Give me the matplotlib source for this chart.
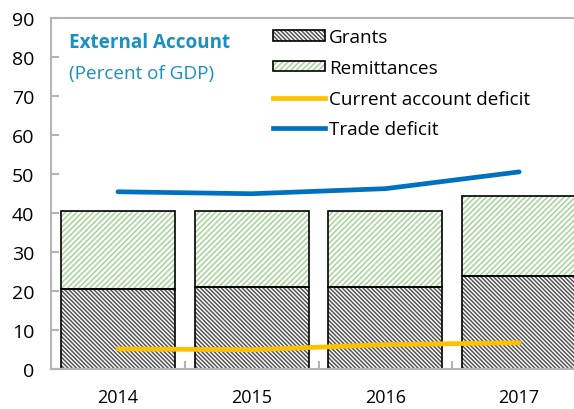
# plot.py
# External account chart: stacked bars (grants, remittances) + deficit lines

import matplotlib
matplotlib.use('agg')
import matplotlib.pyplot as plt
from matplotlib.patches import Patch
from matplotlib.lines import Line2D
import numpy as np

### Data ###
years = ['2014', '2015', '2016', '2017']
grants = [20.5, 21.0, 21.0, 23.8]
remittances = [20.0, 19.5, 19.5, 20.6]
current_account_deficit = [5.1, 4.9, 6.2, 6.7]
trade_deficit = [45.4, 44.9, 46.2, 50.5]

### Style ###
plt.rcParams['font.family'] = ['Open Sans', 'DejaVu Sans']
plt.rcParams['hatch.linewidth'] = 1.1
SPINE = '#b4b4b4'
TITLE_BLUE = '#1a8fc2'
GRANT_HATCH = '\\' * 8
REMIT_HATCH = '/' * 6
GRANT_COL = '#555555'
REMIT_COL = '#a3d396'

fig = plt.figure(figsize=(5.74, 4.10), dpi=100)
ax = fig.add_axes([0.089, 0.098, 0.932, 0.856])

x = np.arange(len(years))
w = 0.853

# hatched fills (edge colour drives hatch colour), then black outlines
ax.bar(x, grants, w, color='white', edgecolor=GRANT_COL, hatch=GRANT_HATCH, linewidth=0)
ax.bar(x, remittances, w, bottom=grants, color='white', edgecolor=REMIT_COL,
       hatch=REMIT_HATCH, linewidth=0)
ax.bar(x, grants, w, fill=False, edgecolor='black', linewidth=1.2)
ax.bar(x, remittances, w, bottom=grants, fill=False, edgecolor='black', linewidth=1.2)

ax.plot(x, current_account_deficit, color='#ffc000', lw=3.4, solid_capstyle='round')
ax.plot(x, trade_deficit, color='#0070c0', lw=3.4, solid_capstyle='round')

ax.set_xlim(-0.5, 3.5)
ax.set_ylim(0, 90)
ax.set_yticks(range(0, 91, 10))
ax.set_xticks(x)
ax.set_xticklabels(years)
ax.set_xticks(x[:-1] + 0.5, minor=True)
ax.tick_params(axis='x', which='major', length=0, pad=14, labelsize=13)
ax.tick_params(axis='x', which='minor', direction='in', length=6, color=SPINE, width=1.5)
ax.tick_params(axis='y', direction='in', length=6, color=SPINE, width=1.5,
               labelsize=14, pad=12)
for s in ax.spines.values():
    s.set_color(SPINE)
    s.set_linewidth(1.5)

# title inside axes
ax.text(0.033, 0.93, 'External Account', transform=ax.transAxes, color=TITLE_BLUE,
        fontsize=13.6, fontweight='bold', va='center')
ax.text(0.033, 0.843, '(Percent of GDP)', transform=ax.transAxes, color=TITLE_BLUE,
        fontsize=13.6, va='center')

# legend (hatch layer + black outline layered via tuple handles)
handles = [
    (Patch(facecolor='white', edgecolor=GRANT_COL, hatch=GRANT_HATCH, linewidth=0),
     Patch(fill=False, edgecolor='black', linewidth=1.2)),
    (Patch(facecolor='white', edgecolor=REMIT_COL, hatch=REMIT_HATCH, linewidth=0),
     Patch(fill=False, edgecolor='black', linewidth=1.2)),
    Line2D([], [], color='#ffc000', lw=3.4),
    Line2D([], [], color='#0070c0', lw=3.4),
]
labels = ['Grants', 'Remittances', 'Current account deficit', 'Trade deficit']
ax.legend(handles, labels, loc='upper left', bbox_to_anchor=(0.4, 0.993), frameon=False,
          fontsize=13.6, handlelength=2.75, handleheight=0.5, handletextpad=0.25,
          labelspacing=0.68, borderaxespad=0)

fig.savefig('out.png', dpi=100)
